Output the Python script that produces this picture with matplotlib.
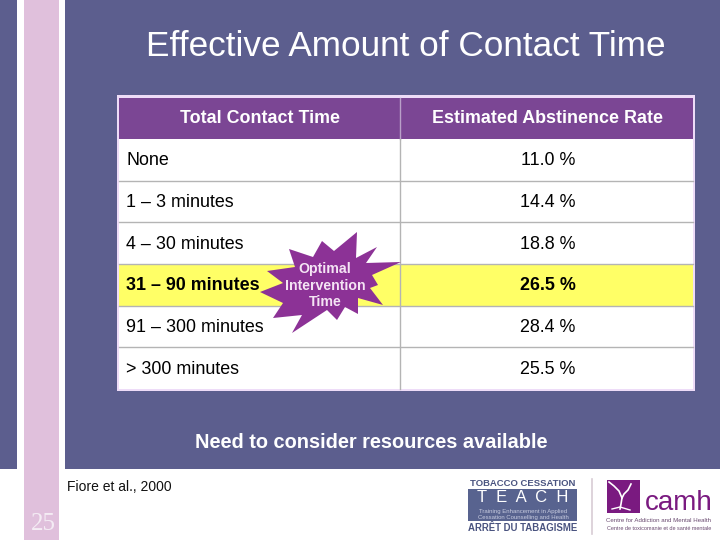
import matplotlib
matplotlib.use('Agg')
import matplotlib.pyplot as plt
from matplotlib.patches import Rectangle, Polygon

plt.rcParams['font.family'] = ['Liberation Sans', 'DejaVu Sans']

headers = ['Total Contact Time', 'Estimated Abstinence Rate']
contact_time = ['None', '1 – 3 minutes', '4 – 30 minutes', '31 – 90 minutes',
                '91 – 300 minutes', '> 300 minutes']
abstinence = [11.0, 14.4, 18.8, 26.5, 28.4, 25.5]
highlight = 3

# star outline
star_x = [357, 356, 377, 366, 401, 372, 378, 370, 383, 358, 358, 345, 337, 327,
          292, 302, 273, 283, 260, 283, 267, 295, 289, 313, 322, 334]
star_y = [232, 258, 247, 263, 262, 275, 285, 288, 305, 298, 314, 307, 320, 310,
          333, 315, 318, 303, 292, 283, 271, 267, 249, 257, 241, 251]

BLUE = '#5c5e8e'
PINK = '#e0c0dc'
PURPLE = '#7b4694'
STAR = '#8c3296'
GRID = '#b4b4b4'

def rect(ax, x0, y0, x1, y1, color, z=1):
    ax.add_patch(Rectangle((x0, y0), x1 - x0, y1 - y0, fc=color, ec='none', zorder=z))

fig = plt.figure(figsize=(7.2, 5.4), dpi=100)
ax = fig.add_axes([0, 0, 1, 1])
ax.set_xlim(0, 720)
ax.set_ylim(540, 0)
ax.axis('off')

# slide background
rect(ax, 0, 0, 17, 469, BLUE)
rect(ax, 65, 0, 720, 469, BLUE)
rect(ax, 24, 0, 59, 540, PINK)

ax.text(405.5, 47, 'Effective Amount of Contact Time', color='white', fontsize=25.3,
        ha='center', va='center')

# table
left, mid, right = 119, 400, 693
row_top = 139
row_h = 41.67
rect(ax, 117, 95, 695, 391, '#eedcf8', 2)
rect(ax, left, 98, right, row_top, PURPLE, 3)
rect(ax, left, row_top, right, 389, 'white', 3)
rect(ax, left, row_top + highlight * row_h, right, row_top + (highlight + 1) * row_h, '#ffff66', 3)
ax.plot([mid, mid], [98, row_top], color='#b9a0c8', lw=1, zorder=4)
ax.plot([mid, mid], [row_top, 389], color=GRID, lw=1, zorder=4)

ax.text(260, 118.5, headers[0], color='white', fontsize=12.9, fontweight='bold', ha='center', va='center')
ax.text(548, 118.5, headers[1], color='white', fontsize=12.9, fontweight='bold', ha='center', va='center')

for i, (label, val) in enumerate(zip(contact_time, abstinence)):
    cy = row_top + (i + 0.5) * row_h
    if i > 0:
        ax.plot([left, right], [row_top + i * row_h] * 2, color=GRID, lw=1, zorder=4)
    weight = 'bold' if i == highlight else 'normal'
    ax.text(126, cy + 1, label, fontsize=12.9, fontweight=weight, ha='left', va='center', zorder=5)
    ax.text(548, cy + 1, '%.1f %%' % val, fontsize=12.9, fontweight=weight, ha='center', va='center', zorder=5)

# starburst
ax.add_patch(Polygon(list(zip(star_x, star_y)), closed=True, fc=STAR, ec='none', zorder=6))
ax.text(325, 285.5, 'Optimal\nIntervention\nTime', color='#f4e4f4', fontsize=10.2, fontweight='bold',
        ha='center', va='center', linespacing=1.25, zorder=7)

ax.text(371.5, 442, 'Need to consider resources available', color='white', fontsize=14.4,
        fontweight='bold', ha='center', va='center')

# footer
ax.text(67, 487, 'Fiore et al., 2000', fontsize=10, ha='left', va='center', color='#111111')
ax.text(43, 524, '25', color='#f4ecf4', fontsize=18, family=['Liberation Serif', 'DejaVu Serif'],
        ha='center', va='center')

# TEACH logo
ax.text(523, 484, 'TOBACCO CESSATION', color='#4a5480', fontsize=6.8, fontweight='bold', ha='center', va='center')
rect(ax, 468, 489, 577, 521, '#58638f')
ax.text(523, 497, 'T  E  A  C  H', color='white', fontsize=12, ha='center', va='center')
ax.text(523, 511.5, 'Training Enhancement in Applied', color='#c8cce0', fontsize=4.3, ha='center', va='center')
ax.text(523, 517.5, 'Cessation Counselling and Health', color='#c8cce0', fontsize=4.3, ha='center', va='center')
ax.text(523, 528, 'ARRÊT DU TABAGISME', color='#4a5480', fontsize=6.9, fontweight='bold', ha='center', va='center')

ax.plot([592, 592], [479, 534], color='#d8ccd4', lw=1.2)

# CAMH logo
rect(ax, 607, 480, 640, 513, '#7a1a80')
ax.plot([609, 614, 619, 622, 621, 620], [482, 486, 491, 498, 504, 509], color='white', lw=1.2)
ax.plot([622, 624, 628, 631], [498, 494, 490, 484], color='white', lw=1.2)
ax.plot([612, 620, 630], [509, 507, 510], color='white', lw=1.0)
ax.text(678.5, 503, 'camh', color='#7a1a80', fontsize=20, ha='center', va='center')
ax.text(658, 521, 'Centre for Addiction and Mental Health', color='#6a4a70', fontsize=4.4, ha='center', va='center')
ax.text(659, 528, 'Centre de toxicomanie et de santé mentale', color='#6a4a70', fontsize=4.0, ha='center', va='center')

fig.savefig('out.png', dpi=100)
